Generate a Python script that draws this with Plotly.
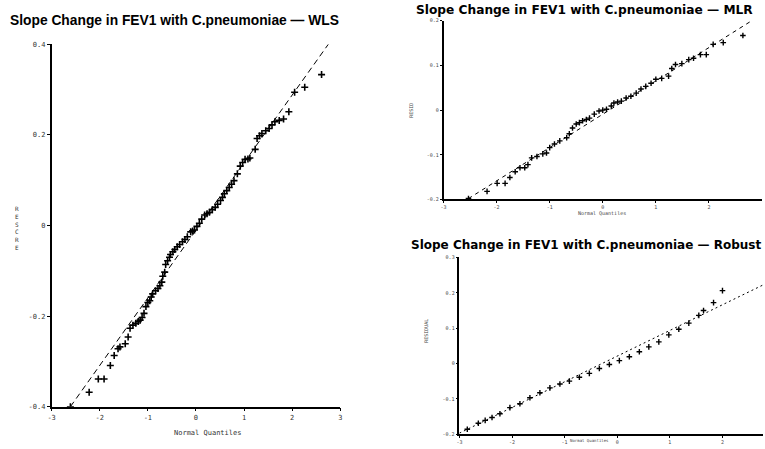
import plotly.graph_objects as go

# ---------------- data ----------------
wls_q = [-2.61, -2.22, -2.03, -1.91, -1.78, -1.70, -1.62, -1.58, -1.47, -1.41, -1.37, -1.31,
         -1.25, -1.20, -1.16, -1.12, -1.08, -1.04, -1.00, -0.96, -0.93, -0.90, -0.84, -0.79,
         -0.75, -0.71, -0.69, -0.65, -0.63, -0.59, -0.55, -0.53, -0.48, -0.44, -0.39, -0.34,
         -0.28, -0.23, -0.18, -0.11, -0.07, -0.03, 0.02, 0.07, 0.12, 0.18, 0.23, 0.28, 0.34,
         0.40, 0.45, 0.51, 0.55, 0.59, 0.64, 0.69, 0.74, 0.79, 0.86, 0.92, 0.97, 1.02, 1.08,
         1.12, 1.23, 1.27, 1.32, 1.37, 1.45, 1.52, 1.58, 1.64, 1.73, 1.82, 1.93, 2.05, 2.26,
         2.61]
wls_r = [-0.400, -0.368, -0.339, -0.339, -0.309, -0.287, -0.272, -0.268, -0.261, -0.246,
         -0.227, -0.220, -0.216, -0.212, -0.209, -0.203, -0.194, -0.179, -0.170, -0.166,
         -0.158, -0.151, -0.144, -0.139, -0.133, -0.125, -0.112, -0.103, -0.086, -0.078,
         -0.070, -0.064, -0.058, -0.053, -0.047, -0.042, -0.036, -0.031, -0.025, -0.014,
         -0.012, -0.010, -0.002, 0.005, 0.014, 0.023, 0.026, 0.029, 0.035, 0.040, 0.047,
         0.055, 0.062, 0.070, 0.077, 0.084, 0.091, 0.099, 0.114, 0.131, 0.139, 0.146, 0.147,
         0.149, 0.168, 0.192, 0.198, 0.203, 0.209, 0.214, 0.222, 0.229, 0.232, 0.235, 0.251,
         0.294, 0.305, 0.333]
wls_ref_x = [-2.61, 2.75]
wls_ref_y = [-0.40, 0.40]

mlr_q = [-2.53, -2.18, -1.99, -1.84, -1.75, -1.65, -1.56, -1.47, -1.41, -1.34, -1.24, -1.13,
         -1.06, -1.00, -0.91, -0.81, -0.68, -0.63, -0.57, -0.50, -0.44, -0.38, -0.31, -0.25,
         -0.16, -0.07, 0.00, 0.07, 0.16, 0.21, 0.28, 0.35, 0.44, 0.53, 0.63, 0.72, 0.81, 0.91,
         1.00, 1.11, 1.24, 1.30, 1.37, 1.49, 1.62, 1.71, 1.84, 1.95, 2.08, 2.27, 2.64]
mlr_r = [-0.198, -0.182, -0.164, -0.164, -0.151, -0.138, -0.129, -0.129, -0.122, -0.107,
         -0.104, -0.098, -0.096, -0.084, -0.076, -0.069, -0.062, -0.053, -0.040, -0.031,
         -0.028, -0.024, -0.021, -0.018, -0.009, -0.002, 0.000, 0.002, 0.009, 0.016, 0.018,
         0.020, 0.027, 0.031, 0.038, 0.047, 0.053, 0.060, 0.069, 0.071, 0.076, 0.093, 0.102,
         0.104, 0.113, 0.116, 0.124, 0.124, 0.147, 0.151, 0.167]
mlr_ref_x = [-2.53, 2.78]
mlr_ref_y = [-0.198, 0.198]

rob_q = [-2.85, -2.64, -2.51, -2.38, -2.23, -2.04, -1.85, -1.66, -1.47, -1.28, -1.09, -0.91,
         -0.72, -0.53, -0.34, -0.15, 0.04, 0.23, 0.42, 0.60, 0.79, 0.98, 1.17, 1.36, 1.55,
         1.64, 1.83, 2.00]
rob_r = [-0.186, -0.169, -0.161, -0.153, -0.142, -0.125, -0.114, -0.097, -0.083, -0.069,
         -0.058, -0.050, -0.039, -0.028, -0.014, -0.003, 0.008, 0.019, 0.033, 0.047, 0.061,
         0.081, 0.097, 0.114, 0.136, 0.150, 0.172, 0.206]
rob_ref_x = [-3.0, 2.77]
rob_ref_y = [-0.197, 0.222]

wls_yticks = [-0.4, -0.2, 0, 0.2, 0.4]
wls_yticklabels = ["-0.4", "-0.2", "0", "0.2", "0.4"]
mlr_yticks = [-0.2, -0.1, 0, 0.1, 0.2]
mlr_yticklabels = ["-0.2", "-0.1", "0", "0.1", "0.2"]
rob_yticks = [-0.2, -0.1, 0, 0.1, 0.2, 0.3]
rob_yticklabels = ["-0.2", "-0.1", "0", "0.1", "0.2", "0.3"]
xticks = [-3, -2, -1, 0, 1, 2, 3]
xticklabels = ["-3", "-2", "-1", "0", "1", "2", "3"]
xticks_r = [-3, -2, -1, 0, 1, 2]
xticklabels_r = ["-3", "-2", "-1", "0", "1", "2"]

titles = ["Slope Change in FEV1 with C.pneumoniae \u2014 WLS",
          "Slope Change in FEV1 with C.pneumoniae \u2014 MLR",
          "Slope Change in FEV1 with C.pneumoniae \u2014 Robust"]
xlabel = "Normal Quantiles"
ylabel = "RESCRE"

# ---------------- figure ----------------
W, H = 765, 449
fig = go.Figure()

mk = dict(symbol="cross-thin", size=5, color="black", line=dict(color="black", width=1.6))

fig.add_trace(go.Scatter(x=wls_ref_x, y=wls_ref_y, mode="lines",
                         line=dict(color="black", width=1, dash="6px,4px"),
                         xaxis="x", yaxis="y", showlegend=False))
fig.add_trace(go.Scatter(x=wls_q, y=wls_r, mode="markers", marker=mk,
                         xaxis="x", yaxis="y", showlegend=False))

fig.add_trace(go.Scatter(x=mlr_ref_x, y=mlr_ref_y, mode="lines",
                         line=dict(color="black", width=1, dash="4px,4px"),
                         xaxis="x2", yaxis="y2", showlegend=False))
fig.add_trace(go.Scatter(x=mlr_q, y=mlr_r, mode="markers",
                         marker=dict(mk, size=4, line=dict(color="black", width=1.4)),
                         xaxis="x2", yaxis="y2", showlegend=False))

fig.add_trace(go.Scatter(x=rob_ref_x, y=rob_ref_y, mode="lines",
                         line=dict(color="black", width=1, dash="2px,3px"),
                         xaxis="x3", yaxis="y3", showlegend=False))
fig.add_trace(go.Scatter(x=rob_q, y=rob_r, mode="markers",
                         marker=dict(mk, size=4, line=dict(color="black", width=1.4)),
                         xaxis="x3", yaxis="y3", showlegend=False))


def px(v):
    return v / W


def py(v):
    return 1 - v / H


axis_common = dict(showgrid=False, zeroline=False, showline=True, linecolor="black",
                   linewidth=1.5, ticks="outside", ticklen=3, tickcolor="black",
                   tickfont=dict(family="DejaVu Sans Mono", size=7, color="#333"))
small_font = dict(family="DejaVu Sans Mono", size=5, color="#444")

fig.update_layout(
    width=W, height=H, margin=dict(l=0, r=0, t=0, b=0),
    paper_bgcolor="white", plot_bgcolor="white",
    xaxis=dict(axis_common, domain=[px(48), px(339)], range=[-3, 3], anchor="y",
               tickvals=xticks, ticktext=xticklabels),
    yaxis=dict(axis_common, domain=[py(410), py(41)], range=[-0.4, 0.4], anchor="x",
               tickvals=wls_yticks, ticktext=wls_yticklabels),
    xaxis2=dict(axis_common, domain=[px(443), px(764)], range=[-3, 3], anchor="y2",
                tickvals=xticks_r, ticktext=xticklabels_r, tickfont=small_font, ticklen=2),
    yaxis2=dict(axis_common, domain=[py(199), py(17)], range=[-0.2, 0.2], anchor="x2",
                tickvals=mlr_yticks, ticktext=mlr_yticklabels, tickfont=small_font, ticklen=2),
    xaxis3=dict(axis_common, domain=[px(459), 1.0], range=[-3, 2.77], anchor="y3",
                tickvals=xticks_r, ticktext=xticklabels_r, tickfont=small_font, ticklen=2),
    yaxis3=dict(axis_common, domain=[py(438), py(258)], range=[-0.2, 0.3], anchor="x3",
                tickvals=rob_yticks, ticktext=rob_yticklabels, tickfont=small_font, ticklen=2),
)

ann = []
ann.append(dict(x=px(4), y=py(17), xref="paper", yref="paper", text="<b>" + titles[0] + "</b>",
                showarrow=False, xanchor="left", yanchor="middle",
                font=dict(family="Liberation Sans", size=13.8, color="black")))
ann.append(dict(x=px(413), y=py(6), xref="paper", yref="paper", text="<b>" + titles[1] + "</b>",
                showarrow=False, xanchor="left", yanchor="middle",
                font=dict(family="DejaVu Sans", size=12.2, color="black")))
ann.append(dict(x=px(765), y=py(245), xref="paper", yref="paper", text="<b>" + titles[2] + "</b>",
                showarrow=False, xanchor="right", yanchor="middle",
                font=dict(family="DejaVu Sans", size=12, color="black")))
# x axis titles
ann.append(dict(x=px(205), y=py(437), xref="paper", yref="paper", text=xlabel,
                showarrow=False, xanchor="center", yanchor="middle",
                font=dict(family="DejaVu Sans Mono", size=7, color="#333")))
ann.append(dict(x=px(603), y=py(213), xref="paper", yref="paper", text=xlabel,
                showarrow=False, xanchor="center", yanchor="middle", font=small_font))
ann.append(dict(x=px(590), y=py(449), xref="paper", yref="paper", text=xlabel,
                showarrow=False, xanchor="center", yanchor="bottom",
                font=dict(family="DejaVu Sans Mono", size=4, color="#444")))
# y axis titles
ann.append(dict(x=px(13), y=py(228), xref="paper", yref="paper",
                text="<br>".join(list(ylabel)), showarrow=False,
                xanchor="center", yanchor="middle",
                font=dict(family="DejaVu Sans Mono", size=6, color="#333")))
ann.append(dict(x=px(410), y=py(108), xref="paper", yref="paper", text="RESID",
                textangle=-90, showarrow=False, xanchor="center", yanchor="middle",
                font=small_font))
ann.append(dict(x=px(425), y=py(333), xref="paper", yref="paper", text="RESIDUAL",
                textangle=-90, showarrow=False, xanchor="center", yanchor="middle",
                font=small_font))
fig.update_layout(annotations=ann)

fig.write_html("out.html", config={"displayModeBar": False},
               post_script="document.body.style.margin='0px';document.body.style.overflow='hidden';")
